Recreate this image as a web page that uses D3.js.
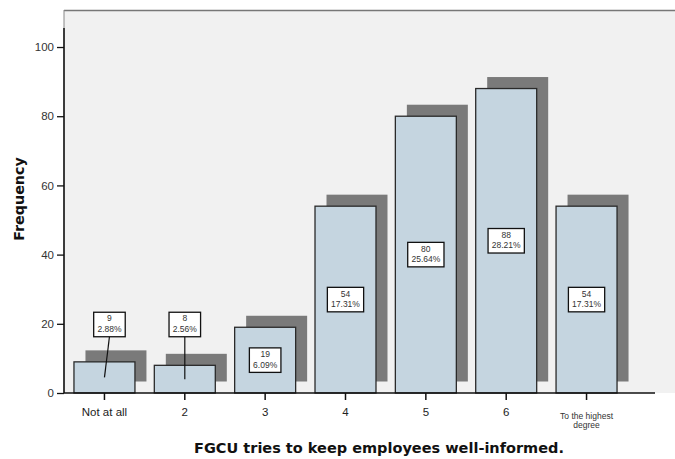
<!DOCTYPE html>
<html>
<head>
<meta charset="utf-8">
<script src="https://cdn.jsdelivr.net/npm/d3@7/dist/d3.min.js"></script>
<style>
  html, body { margin: 0; padding: 0; background: #ffffff; }
  svg { display: block; }
</style>
</head>
<body>
<svg id="chart" width="675" height="459"></svg>
<script>
// Response categories and their frequencies
const categories = ["Not at all", "2", "3", "4", "5", "6", "To the highest degree"];
const counts = [9, 8, 19, 54, 80, 88, 54];
const yTicks = [0, 20, 40, 60, 80, 100];
const xTitle = "FGCU tries to keep employees well-informed.";
const yTitle = "Frequency";

const total = d3.sum(counts);
const rows = categories.map((c, i) => ({
  cat: c,
  n: counts[i],
  pct: (counts[i] / total * 100).toFixed(2) + "%"
}));

const svg = d3.select("#chart");
const plot = { left: 64, top: 10, right: 675, bottom: 393 };

const x = d3.scaleBand()
  .domain(categories)
  .range([plot.left, 627])
  .paddingInner(0.241)
  .paddingOuter(0.124);

const y = d3.scaleLinear()
  .domain([0, 110.7])
  .range([plot.bottom, plot.top]);

// plot background and frame
svg.append("rect")
  .attr("x", plot.left).attr("y", plot.top)
  .attr("width", plot.right - plot.left).attr("height", plot.bottom - plot.top)
  .attr("fill", "#f1f1f1");
svg.append("line")
  .attr("x1", plot.left).attr("x2", plot.right)
  .attr("y1", plot.top + 0.5).attr("y2", plot.top + 0.5)
  .attr("stroke", "#777").attr("stroke-width", 1.5);
svg.append("line")
  .attr("x1", plot.left).attr("x2", plot.left)
  .attr("y1", plot.top).attr("y2", plot.bottom)
  .attr("stroke", "#888").attr("stroke-width", 1);

// drop shadows behind the bars
const shadowOff = 11.5;
svg.append("g").selectAll("rect")
  .data(rows).join("rect")
  .attr("x", d => x(d.cat) + shadowOff)
  .attr("y", d => y(d.n) - shadowOff)
  .attr("width", x.bandwidth())
  .attr("height", d => y(0) - y(d.n))
  .attr("fill", "#7a7a7a");

// bars
svg.append("g").selectAll("rect")
  .data(rows).join("rect")
  .attr("x", d => x(d.cat))
  .attr("y", d => y(d.n))
  .attr("width", x.bandwidth())
  .attr("height", d => y(0) - y(d.n))
  .attr("fill", "#c5d5e0")
  .attr("stroke", "#2a2a2a")
  .attr("stroke-width", 1.3);

// y axis
const yAxis = svg.append("g")
  .attr("transform", `translate(${plot.left},0)`)
  .call(d3.axisLeft(y).tickValues(yTicks).tickSize(7).tickPadding(3));
yAxis.select(".domain").remove();
yAxis.selectAll(".tick line").attr("stroke", "#111").attr("stroke-width", 1.3);
yAxis.selectAll(".tick text")
  .attr("font-family", "Liberation Sans, Arial, sans-serif")
  .attr("font-size", 11.5).attr("fill", "#333");
svg.append("line")
  .attr("x1", plot.left).attr("x2", plot.left)
  .attr("y1", 28).attr("y2", plot.bottom)
  .attr("stroke", "#111").attr("stroke-width", 1.5);

// x axis
const xAxis = svg.append("g")
  .attr("transform", `translate(0,${plot.bottom})`)
  .call(d3.axisBottom(x).tickSize(7).tickPadding(8));
xAxis.select(".domain").remove();
xAxis.selectAll(".tick line").attr("stroke", "#111").attr("stroke-width", 1.5);
xAxis.selectAll(".tick text")
  .attr("font-family", "Liberation Sans, Arial, sans-serif")
  .attr("font-size", 11.5).attr("fill", "#222")
  .each(function(d) {
    if (d === "To the highest degree") {
      const t = d3.select(this).text(null)
        .attr("font-size", 8.5).attr("fill", "#333")
        .attr("y", null).attr("dy", null);
      t.append("tspan").attr("x", 0).attr("y", 26).text("To the highest");
      t.append("tspan").attr("x", 0).attr("y", 35).text("degree");
    }
  });
svg.append("line")
  .attr("x1", plot.left).attr("x2", 655)
  .attr("y1", plot.bottom).attr("y2", plot.bottom)
  .attr("stroke", "#111").attr("stroke-width", 1.5);

// value labels: count and percent in a boxed callout
const labelFont = "Liberation Sans, Arial, sans-serif";
const outsideBelow = 15;        // bars shorter than this get an external callout
const calloutLevel = 19.8;      // value level where external callouts sit
const calloutNudge = { "Not at all": 5 };

const labels = svg.append("g");
rows.forEach(d => {
  const cx = x(d.cat) + x.bandwidth() / 2;
  const outside = d.n < outsideBelow;
  const bx = cx + (outside ? (calloutNudge[d.cat] || 0) : 0);
  const by = outside ? y(calloutLevel) : (y(d.n) + y(0)) / 2;
  const g = labels.append("g").attr("transform", `translate(${bx},${by})`);
  const t = g.append("text")
    .attr("font-family", labelFont).attr("font-size", 8.5)
    .attr("fill", "#333").attr("text-anchor", "middle");
  t.append("tspan").attr("x", 0).attr("y", -3).text(d.n);
  t.append("tspan").attr("x", 0).attr("y", 7.5).text(d.pct);
  const w = t.node().getBBox().width + 7;
  const h = 24.5;
  g.insert("rect", "text")
    .attr("x", -w / 2).attr("y", -h / 2)
    .attr("width", w).attr("height", h)
    .attr("fill", "#ffffff").attr("stroke", "#111").attr("stroke-width", 1.3);
  if (outside) {
    labels.insert("line", "g")
      .attr("x1", bx).attr("y1", by + h / 2)
      .attr("x2", cx).attr("y2", (y(d.n) + y(0)) / 2)
      .attr("stroke", "#111").attr("stroke-width", 1.2);
  }
});

// axis titles
svg.append("text")
  .attr("x", 379).attr("y", 453)
  .attr("text-anchor", "middle")
  .attr("font-family", "DejaVu Sans, Verdana, sans-serif")
  .attr("font-weight", "bold").attr("font-size", 14.5).attr("fill", "#111")
  .text(xTitle);
svg.append("text")
  .attr("transform", "translate(23.5,199) rotate(-90)")
  .attr("text-anchor", "middle")
  .attr("font-family", "DejaVu Sans, Verdana, sans-serif")
  .attr("font-weight", "bold").attr("font-size", 14.3).attr("fill", "#111")
  .text(yTitle);
</script>
</body>
</html>
